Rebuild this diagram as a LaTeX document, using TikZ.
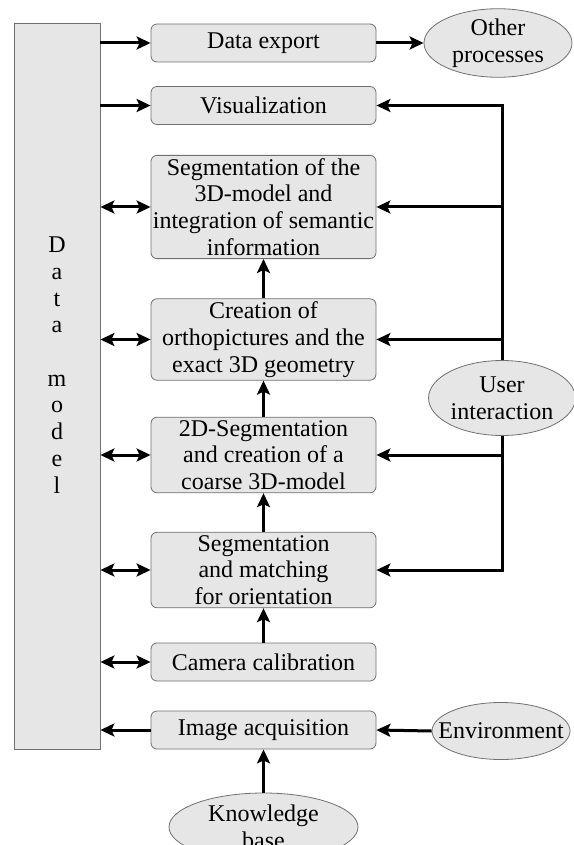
\documentclass[tikz,border=0pt]{standalone}
\usepackage{fontspec}
\setmainfont{Liberation Serif}
\usetikzlibrary{shapes.geometric, arrows.meta, positioning, calc}
\definecolor{boxgray}{RGB}{230,230,230}
\definecolor{edgegray}{RGB}{112,112,112}

\begin{document}
\begin{tikzpicture}[x=0.5pt, y=-0.5pt,
  font=\fontsize{12}{13.35}\selectfont,
  procbox/.style={draw=edgegray, fill=boxgray, rounded corners=3pt, minimum width=112.5pt,
    minimum height=19pt, inner xsep=0.5pt, inner ysep=1.5pt, align=center},
  extnode/.style={draw=edgegray, fill=boxgray, ellipse, inner sep=0pt, align=center},
  arr/.style={-{Stealth[length=7pt, width=6.5pt, inset=1.5pt]}, line width=1.5pt},
  darr/.style={{Stealth[length=7pt, width=6.5pt, inset=1.5pt]}-{Stealth[length=7pt, width=6.5pt, inset=1.5pt]}, line width=1.5pt}]

  \useasboundingbox (0,0) rectangle (573,845);

  % Data model column
  \node[draw=edgegray, fill=boxgray, minimum width=43pt, minimum height=363pt, inner sep=0pt] (dm) at (57,386) {};
  \node[align=center, inner sep=0pt] (dmtext) at (57,365) {D\\a\\t\\a\\[13.35pt]m\\o\\d\\e\\l};

  % Processing steps
  \node[procbox] (export) at (263.5,43) {Data export};
  \node[procbox] (vis) at (263.5,105.5) {Visualization};
  \node[procbox] (seg3d) at (263.5,207) {Segmentation of the\\3D-model and\\integration of semantic\\information};
  \node[procbox] (creation) at (263.5,339.5) {Creation of\\orthopictures and the\\exact 3D geometry};
  \node[procbox] (seg2d) at (263.5,455) {2D-Segmentation\\and creation of a\\coarse 3D-model};
  \node[procbox] (segmatch) at (263.5,570) {Segmentation\\and matching\\for orientation};
  \node[procbox] (camera) at (263.5,662) {Camera calibration};
  \node[procbox] (image) at (263.5,730) {Image acquisition};

  % External parts
  \node[extnode, minimum width=74pt, minimum height=34pt] (other) at (498,43) {Other\\processes};
  \node[extnode, minimum width=73.5pt, minimum height=37.5pt] (ui) at (502,398) {User\\interaction};
  \node[extnode, minimum width=69pt, minimum height=28.5pt, inner xsep=-7pt] (env) at (501,731) {Environment};
  \node[extnode, minimum width=94.5pt, minimum height=34pt] (kb) at (263.5,827) {Knowledge\\base};

  % Data model links
  \draw[arr] (dm.east |- export.west) -- (export.west);
  \draw[arr] (dm.east |- vis.west) -- (vis.west);
  \foreach \b in {seg3d, creation, seg2d, segmatch, camera}
    \draw[darr] (dm.east |- \b.west) -- (\b.west);
  \draw[arr] (image.west) -- (dm.east |- image.west);

  % Processing chain
  \draw[arr] (kb.north) -- (image.south);
  \draw[arr] (camera.north) -- (segmatch.south);
  \draw[arr] (segmatch.north) -- (seg2d.south);
  \draw[arr] (seg2d.north) -- (creation.south);
  \draw[arr] (creation.north) -- (seg3d.south);
  \draw[arr] (export.east) -- (other.west);
  \draw[arr] (env.west) -- (image.east);

  % User interaction
  \draw[arr] (ui.north) |- (vis.east);
  \draw[arr] (ui.north |- seg3d.east) -- (seg3d.east);
  \draw[arr] (ui.north |- creation.east) -- (creation.east);
  \draw[arr] (ui.south) |- (segmatch.east);
  \draw[arr] (ui.south |- seg2d.east) -- (seg2d.east);
\end{tikzpicture}
\end{document}
